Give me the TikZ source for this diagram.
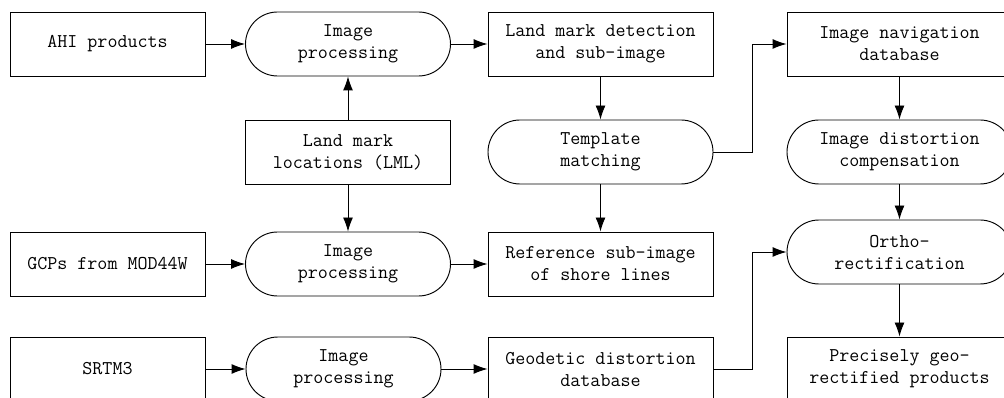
\documentclass[tikz,border=0pt]{standalone}
\usepackage{tikz}
\usetikzlibrary{arrows.meta}

\tikzset{
  every node/.style={font=\ttfamily\fontsize{14.6}{16.5}\selectfont, align=center},
  databox/.style={draw, rectangle, minimum height=48pt, inner sep=2pt},
  procbox/.style={draw, rectangle, rounded corners=24pt, minimum height=48pt, inner sep=2pt},
}

\begin{document}
\begin{tikzpicture}[x=0.75pt,y=-0.75pt,>={Latex[length=10.5pt,width=7.5pt]},line width=0.7pt]
  \useasboundingbox (0,0) rectangle (1004,398);

  % inputs
  \node[databox,minimum width=146.25pt] (ahi)  at (107.5,44)  {AHI products};
  \node[databox,minimum width=146.25pt] (gcp)  at (107.5,264) {GCPs from MOD44W};
  \node[databox,minimum width=146.25pt] (srtm) at (107.5,369) {SRTM3};

  % processing
  \node[procbox,minimum width=153.75pt] (ipa) at (348,44)    {Image\\processing};
  \node[databox,minimum width=153.75pt] (lml) at (348,152)   {Land mark\\locations (LML)};
  \node[procbox,minimum width=153.75pt] (ipb) at (348,264)   {Image\\processing};
  \node[procbox,minimum width=146.25pt] (ipc) at (343.5,369) {Image\\processing};

  \node[databox,minimum width=168.75pt] (lmd) at (600.5,44)  {Land mark detection\\and sub-image};
  \node[procbox,minimum width=168.75pt] (tm)  at (600.5,152) {Template\\matching};
  \node[databox,minimum width=168.75pt] (ref) at (600.5,264) {Reference sub-image\\of shore lines};
  \node[databox,minimum width=168.75pt] (geo) at (600.5,369) {Geodetic distortion\\database};

  % outputs
  \node[databox,minimum width=168.75pt] (nav)   at (899.5,44)  {Image navigation\\database};
  \node[procbox,minimum width=168.75pt] (comp)  at (899.5,152) {Image distortion\\compensation};
  \node[procbox,minimum width=168.75pt] (ortho) at (899.5,252) {Ortho-\\rectification};
  \node[databox,minimum width=168.75pt] (prod)  at (899.5,369) {Precisely geo-\\rectified products};

  \draw[->] (ahi) -- (ipa);
  \draw[->] (gcp) -- (ipb);
  \draw[->] (srtm) -- (ipc);
  \draw[->] (lml) -- (ipa);
  \draw[->] (lml) -- (ipb);
  \draw[->] (ipa) -- (lmd);
  \draw[->] (ipb) -- (ref);
  \draw[->] (ipc) -- (geo);
  \draw[->] (lmd) -- (tm);
  \draw[->] (tm) -- (ref);
  \draw[->] (tm.east) -- ++(39,0) |- (nav.west);
  \draw[->] (geo.east) -- ++(39,0) |- (ortho.west);
  \draw[->] (nav) -- (comp);
  \draw[->] (comp) -- (ortho);
  \draw[->] (ortho) -- (prod);
\end{tikzpicture}
\end{document}
